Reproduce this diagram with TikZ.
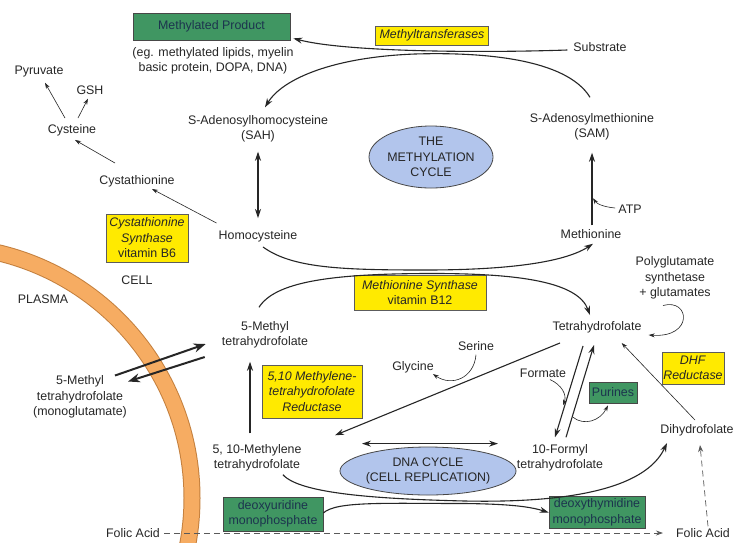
\documentclass[tikz,border=0pt]{standalone}
\usepackage{fontspec}
\setmainfont{Liberation Sans}
\usetikzlibrary{arrows.meta,shapes.geometric}
\definecolor{ink}{RGB}{38,38,38}
\definecolor{boxgreen}{RGB}{64,150,98}
\definecolor{greentext}{RGB}{28,52,78}
\definecolor{boxyellow}{RGB}{255,234,0}
\definecolor{cycleblue}{RGB}{178,197,236}
\definecolor{bandorange}{RGB}{246,172,98}
\definecolor{bandedge}{RGB}{196,128,62}
\definecolor{dashgrey}{RGB}{90,90,90}
\begin{document}
\begin{tikzpicture}[x=1pt,y=-1pt,font=\fontsize{12.4}{15.5}\selectfont,
  lbl/.style={inner sep=0pt,align=center,text=ink},
  gbox/.style={draw=ink!85,line width=0.7pt,fill=boxgreen,text=greentext,align=center,inner sep=0pt},
  ybox/.style={draw=ink!75,line width=0.7pt,fill=boxyellow,text=ink,align=center,inner sep=0pt},
  cyc/.style={ellipse,draw=ink!85,line width=0.8pt,fill=cycleblue,text=ink,align=center,inner sep=0pt},
  flow/.style={draw=ink,line width=1.1pt,-{Stealth[length=9pt,width=6pt]}},
  flowboth/.style={draw=ink,line width=1.1pt,{Stealth[length=9pt,width=6pt]}-{Stealth[length=9pt,width=6pt]}},
  minor/.style={draw=ink,line width=0.6pt,-{Stealth[length=6pt,width=4pt]}},
  heavy/.style={draw=ink,line width=2pt,-{Stealth[length=12pt,width=9pt]}},
  dashy/.style={draw=dashgrey,line width=0.7pt,dash pattern=on 6pt off 4pt,-{Stealth[length=7pt,width=5pt]}}]

\useasboundingbox (0,0) rectangle (733,542);
\fill[white] (0,0) rectangle (733,542);

% cell membrane
\begin{scope}
  \clip (0,0) rectangle (733,542);
  \draw[bandedge,line width=17pt] (-60,498) circle[radius=252];
  \draw[bandorange,line width=15pt] (-60,498) circle[radius=252];
\end{scope}

% nodes
\node[gbox,minimum width=157pt,minimum height=27pt] (mp) at (211.5,26.5) {Methylated Product};
\node[lbl] (eg) at (213,61) {(eg. methylated lipids, myelin\\basic protein, DOPA, DNA)};
\node[ybox,minimum width=113pt,minimum height=19pt] (mt) at (432,35.5) {\textit{Methyltransferases}};
\node[lbl] (sub) at (600,47) {Substrate};
\node[lbl] (pyr) at (39,72) {Pyruvate};
\node[lbl] (gsh) at (90,90) {GSH};
\node[lbl] (cys) at (72,130) {Cysteine};
\node[lbl] (cysta) at (137,181) {Cystathionine};
\node[lbl] (sah) at (258,129) {S-Adenosylhomocysteine\\(SAH)};
\node[lbl] (sam) at (592,127) {S-Adenosylmethionine\\(SAM)};
\node[cyc,minimum width=124pt,minimum height=62pt] (mc) at (431,157) {THE\\METHYLATION\\CYCLE};
\node[lbl] (hcy) at (258,236) {Homocysteine};
\node[lbl] (met) at (591,234) {Methionine};
\node[lbl] (atp) at (630,209) {ATP};
\node[ybox,minimum width=82pt,minimum height=48pt] (cbs) at (147,238) {\textit{Cystathionine}\\\textit{Synthase}\\vitamin B6};
\node[lbl] (cell) at (137,280) {CELL};
\node[lbl] (plasma) at (43,299) {PLASMA};
\node[ybox,minimum width=132pt,minimum height=35pt] (ms) at (420,292.5) {\textit{Methionine Synthase}\\vitamin B12};
\node[lbl] (poly) at (675,278) {Polyglutamate\\synthetase\\+ glutamates};
\node[lbl] (thf) at (597,327) {Tetrahydrofolate};
\node[lbl] (mthf) at (265,335) {5-Methyl\\tetrahydrofolate};
\node[lbl] (mthfo) at (80,397) {5-Methyl\\tetrahydrofolate\\(monoglutamate)};
\node[lbl] (ser) at (476,346) {Serine};
\node[lbl] (gly) at (413,367) {Glycine};
\node[lbl] (form) at (543,373) {Formate};
\node[gbox,minimum width=48pt,minimum height=21pt] (pur) at (613,392.5) {Purines};
\node[ybox,minimum width=62pt,minimum height=32pt] (dhfr) at (693,368) {\textit{DHF}\\\textit{Reductase}};
\node[ybox,minimum width=100pt,minimum height=53pt] (mthfr) at (312,391.5) {\textit{5,10 Methylene-}\\\textit{tetrahydrofolate}\\\textit{Reductase}};
\node[lbl] (dhf) at (697,430) {Dihydrofolate};
\node[lbl] (mlthf) at (257,458) {5, 10-Methylene\\tetrahydrofolate};
\node[lbl] (fthf) at (560,458) {10-Formyl\\tetrahydrofolate};
\node[cyc,minimum width=150pt,minimum height=48pt] (dna) at (428,471) {DNA CYCLE\\(CELL REPLICATION)};
\node[gbox,minimum width=100pt,minimum height=34pt] (dump) at (273,514) {deoxyuridine\\monophosphate};
\node[gbox,minimum width=96pt,minimum height=32pt] (dtmp) at (597,512.5) {deoxythymidine\\monophosphate};
\node[lbl] (fal) at (133,533) {Folic Acid};
\node[lbl] (far) at (703,533) {Folic Acid};

% methylation cycle
\draw[flow] ([shift={(-6,3)}]sub.west) .. controls (480,53) and (345,52) .. ([shift={(3,-2)}]mp.south east);
\draw[flow] ([shift={(-2,-16)}]sam.north) .. controls (566,58) and (480,52) .. (415,54) .. controls (335,57) and (283,78) .. ([shift={(7,-8)}]sah.north);
\draw[flowboth] ([shift={(0,9)}]sah.south) -- ([shift={(0,-12)}]hcy.north);
\draw[flow] ([shift={(1,-4)}]met.north) -- ([shift={(0,12)}]sam.south);
\draw[minor] ([shift={(-3,-1)}]atp.west) .. controls (604,207) and (597,204) .. ([shift={(2,-31)}]met.north);

% transsulfuration
\draw[minor] ([shift={(-2,-7)}]hcy.north west) -- ([shift={(15,2)}]cysta.south);
\draw[minor] ([shift={(-22,-12)}]cysta.north) -- ([shift={(3,4)}]cys.south);
\draw[minor] ([shift={(-7,-6)}]cys.north) -- ([shift={(6,5)}]pyr.south);
\draw[minor] ([shift={(6,-6)}]cys.north) -- ([shift={(-2,4)}]gsh.south);

% methionine synthase
\draw[flow] ([shift={(5,5)}]hcy.south) .. controls (292,268) and (340,270) .. (425,270) .. controls (510,270) and (565,262) .. ([shift={(2,5)}]met.south);
\draw[flow] ([shift={(-6,-14)}]mthf.north) .. controls (275,282) and (330,274) .. (425,273.5) .. controls (520,273) and (578,282) .. ([shift={(-7,-6)}]thf.north);
\draw[minor] ([shift={(-12,6)}]poly.south) .. controls (690,298) and (694,338) .. ([shift={(7,8)}]thf.east);

% folate interconversions
\draw[flow] ([shift={(-37,10)}]thf.south) -- ([shift={(78,-9)}]mlthf.north);
\draw[minor] ([shift={(0,4)}]ser.south) .. controls (474,378) and (452,387) .. ([shift={(-1,7)}]gly.east);
\draw[flow] ([shift={(-14,13)}]thf.south) -- ([shift={(-5,-7)}]fthf.north);
\draw[flow] ([shift={(6,-7)}]fthf.north) -- ([shift={(-3,12)}]thf.south);
\draw[minor] ([shift={(7,2)}]form.south) .. controls (562,385) and (567,395) .. ([shift={(3,-39)}]fthf.north);
\draw[minor] ([shift={(13,-27)}]fthf.north) .. controls (584,426) and (600,421) .. ([shift={(-5,2)}]pur.south);
\draw[minor] ([shift={(-2,-4)}]dhf.north) -- ([shift={(-20,10)}]thf.south east);
\draw[flow] ([shift={(-7,-11)}]mlthf.north) -- ([shift={(-15,13)}]mthf.south);

% DNA cycle
\draw[flowboth] ([shift={(-66,-3)}]dna.north) -- ([shift={(70,-3)}]dna.north);
\draw[flow] ([shift={(26,3)}]mlthf.south) .. controls (300,494) and (380,499) .. (465,501) .. controls (565,503) and (645,490) .. ([shift={(-30,7)}]dhf.south);
\draw[flow] ([shift={(0,-1)}]dump.east) .. controls (336,501) and (385,503.5) .. (465,503.5) .. controls (505,504) and (528,506) .. (dtmp.west);

% transport across membrane
\draw[heavy] ([shift={(35,0)}]mthfo.north) -- ([shift={(-16,9)}]mthf.west);
\draw[heavy] ([shift={(-17,22)}]mthf.west) -- ([shift={(48,6)}]mthfo.north);

% folic acid
\draw[dashy] ([xshift=4pt]fal.east) -- ([xshift=-13pt]far.west);
\draw[dashy] ([shift={(5,-2)}]far.north) -- ([shift={(3,9)}]dhf.south);
\end{tikzpicture}
\end{document}
